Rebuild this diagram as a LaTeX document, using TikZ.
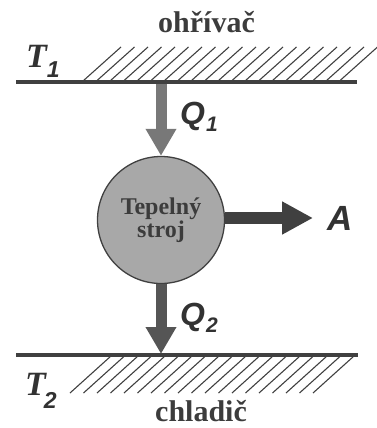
\documentclass[tikz,border=0pt]{standalone}
\usepackage{fontspec}
\setmainfont{Liberation Serif}
\setsansfont{Liberation Sans}
\usetikzlibrary{arrows.meta}
\definecolor{dk}{RGB}{64,64,64}
\definecolor{txt}{RGB}{60,60,60}
\definecolor{lab}{RGB}{50,50,50}
\definecolor{midg}{RGB}{120,120,120}
\definecolor{darkg}{RGB}{85,85,85}
\definecolor{circfill}{RGB}{168,168,168}
\tikzset{
  wall/.style={line width=3.5pt, draw=dk},
  hatch/.style={line width=1.1pt, draw=dk},
  bigtext/.style={font=\fontsize{30}{30}\selectfont\bfseries, text=txt, inner sep=0pt},
  tlab/.style={font=\fontsize{34}{34}\selectfont\bfseries\itshape, text=lab, inner sep=0pt},
  qlab/.style={font=\fontsize{32}{32}\selectfont\sffamily\bfseries\itshape, text=lab, inner sep=0pt},
  heat/.style={line width=11pt, -{Triangle[length=27pt,width=29pt]}},
  work/.style={line width=12pt, draw=dk, -{Triangle[length=31pt,width=31pt]}},
}
\newcommand{\subsc}[2]{\raisebox{-#1}{\fontsize{21}{21}\selectfont\sffamily\itshape #2}}
\newcommand{\subsct}[2]{\raisebox{-#1}{\fontsize{23}{23}\selectfont\sffamily\bfseries\itshape #2}}
\begin{document}
\begin{tikzpicture}[x=1pt,y=-1pt]
\useasboundingbox (0,0) rectangle (376,428);
% hot reservoir
\coordinate (topL) at (16,82);
\coordinate (topR) at (357,82);
\draw[wall] (topL) -- (topR);
\foreach \k in {0,...,19} \draw[hatch] ({83+13.5*\k},81) -- ++(38,-34);
% cold reservoir
\coordinate (botL) at (16,355);
\coordinate (botR) at (358,355);
\draw[wall] (botL) -- (botR);
\foreach \k in {0,...,18} \draw[hatch] ({70+13.5*\k},393) -- ++(41,-37);
% engine
\node[circle, draw=dk, line width=1.3pt, fill=circfill, minimum size=127pt, inner sep=0pt,
      align=center, text=txt, font=\fontsize{24}{23}\selectfont\bfseries] (eng) at (161,220) {Tepelný\\stroj};
% arrows
\coordinate (q1s) at (161,84);
\coordinate (q2e) at (161,354);
\coordinate (ae) at (313,218);
\draw[heat, draw=midg, fill=midg] (q1s) -- (eng.north);
\draw[heat, draw=darkg, fill=darkg] (eng.south) -- (q2e);
\draw[work, fill=dk] (eng.east |- ae) -- (ae);
% labels
\node[bigtext, anchor=base west] (hot) at (158,33) {ohřívač};
\node[bigtext, anchor=base west] (cold) at (155,421) {chladič};
\node[tlab, anchor=base west] (t1) at (26,67) {T\hspace{0pt}\subsct{10pt}{1}};
\node[tlab, anchor=base west] (t2) at (25,395) {T\hspace{-2pt}\subsct{13pt}{2}};
\node[qlab, anchor=base west] (q1) at (180,124) {Q\hspace{1pt}\subsc{7pt}{1}};
\node[qlab, anchor=base west] (q2) at (180,325) {Q\hspace{1pt}\subsc{7pt}{2}};
\node[qlab, font=\fontsize{35}{35}\selectfont\sffamily\bfseries\itshape, anchor=base west] (a) at (327,230) {A};
\end{tikzpicture}
\end{document}
